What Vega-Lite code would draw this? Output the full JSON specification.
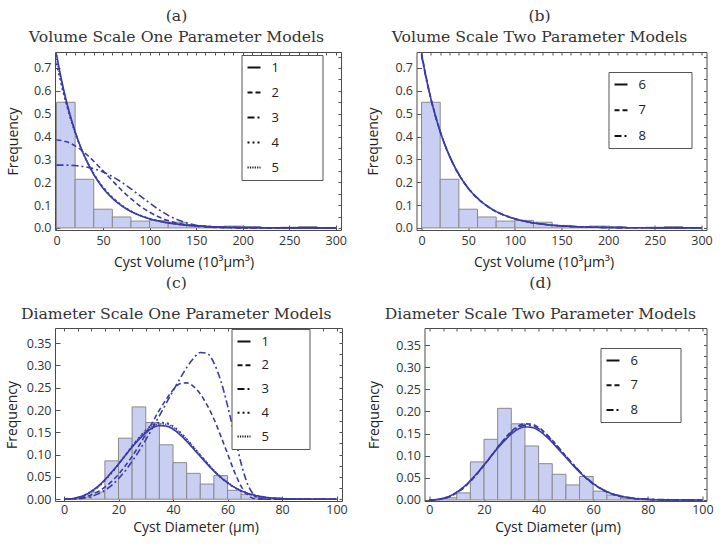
{
  "$schema": "https://vega.github.io/schema/vega-lite/v6.json",
  "background": "white",
  "padding": {"left": 4, "top": 7, "right": 2, "bottom": 2},
  "config": {
    "view": {"stroke": "#4a4a4a", "strokeWidth": 1},
    "title": {"font": "DejaVu Serif", "fontSize": 15.7, "fontWeight": "normal", "color": "#333333", "lineHeight": 21, "offset": 6, "frame": "bounds"},
    "axis": {"labelFont": "Open Sans", "labelFontSize": 12.5, "labelColor": "#333333", "titleFont": "Open Sans", "titleFontSize": 14, "titleFontWeight": "normal", "titleColor": "#222222", "domain": false, "grid": false, "tickColor": "#555555", "tickSize": -5, "labelPadding": 4, "labelFlush": false, "labelOverlap": false},
    "legend": {"orient": "none", "symbolType": "stroke", "symbolStrokeColor": "#111111", "symbolStrokeWidth": 2, "symbolSize": 169, "labelFont": "Open Sans", "labelFontSize": 13, "labelColor": "#222222", "labelOffset": 10, "rowPadding": 10, "padding": 5, "strokeColor": "#555555", "fillColor": "white"}
  },
  "datasets": {
    "volHist": [
      {"x0": 0, "x1": 20, "f": 0.55}, {"x0": 20, "x1": 40, "f": 0.213}, {"x0": 40, "x1": 60, "f": 0.082},
      {"x0": 60, "x1": 80, "f": 0.048}, {"x0": 80, "x1": 100, "f": 0.03}, {"x0": 100, "x1": 120, "f": 0.033},
      {"x0": 120, "x1": 140, "f": 0.025}, {"x0": 140, "x1": 160, "f": 0.011}, {"x0": 160, "x1": 180, "f": 0.005},
      {"x0": 180, "x1": 200, "f": 0.008}, {"x0": 200, "x1": 220, "f": 0.005}, {"x0": 220, "x1": 240, "f": 0.002},
      {"x0": 240, "x1": 260, "f": 0.003}, {"x0": 260, "x1": 280, "f": 0.006}, {"x0": 280, "x1": 300, "f": 0.002}
    ],
    "diaHist": [
      {"x0": 0, "x1": 5, "f": 0.001}, {"x0": 5, "x1": 10, "f": 0.005}, {"x0": 10, "x1": 15, "f": 0.016},
      {"x0": 15, "x1": 20, "f": 0.086}, {"x0": 20, "x1": 25, "f": 0.137}, {"x0": 25, "x1": 30, "f": 0.207},
      {"x0": 30, "x1": 35, "f": 0.172}, {"x0": 35, "x1": 40, "f": 0.122}, {"x0": 40, "x1": 45, "f": 0.082},
      {"x0": 45, "x1": 50, "f": 0.058}, {"x0": 50, "x1": 55, "f": 0.034}, {"x0": 55, "x1": 60, "f": 0.053},
      {"x0": 60, "x1": 65, "f": 0.02}, {"x0": 65, "x1": 70, "f": 0.011}, {"x0": 70, "x1": 75, "f": 0.004},
      {"x0": 75, "x1": 80, "f": 0.003}, {"x0": 80, "x1": 85, "f": 0.001}, {"x0": 85, "x1": 90, "f": 0.0005},
      {"x0": 90, "x1": 95, "f": 0.0005}, {"x0": 95, "x1": 100, "f": 0.0005}
    ],
    "volA": [
      {"x": 0, "1": 0.760, "2": 0.385, "3": 0.275, "4": 0.720, "5": 0.740},
      {"x": 5, "1": 0.656, "2": 0.383, "3": 0.275, "4": 0.630, "5": 0.643},
      {"x": 10, "1": 0.566, "2": 0.378, "3": 0.275, "4": 0.550, "5": 0.558},
      {"x": 15, "1": 0.489, "2": 0.370, "3": 0.274, "4": 0.479, "5": 0.484},
      {"x": 20, "1": 0.422, "2": 0.359, "3": 0.273, "4": 0.417, "5": 0.420},
      {"x": 25, "1": 0.364, "2": 0.346, "3": 0.271, "4": 0.362, "5": 0.363},
      {"x": 30, "1": 0.315, "2": 0.330, "3": 0.268, "4": 0.315, "5": 0.315},
      {"x": 35, "1": 0.272, "2": 0.312, "3": 0.264, "4": 0.274, "5": 0.273},
      {"x": 40, "1": 0.234, "2": 0.292, "3": 0.259, "4": 0.238, "5": 0.236},
      {"x": 45, "1": 0.202, "2": 0.271, "3": 0.253, "4": 0.206, "5": 0.204},
      {"x": 50, "1": 0.174, "2": 0.250, "3": 0.245, "4": 0.179, "5": 0.176},
      {"x": 60, "1": 0.130, "2": 0.207, "3": 0.225, "4": 0.134, "5": 0.132},
      {"x": 70, "1": 0.097, "2": 0.165, "3": 0.200, "4": 0.100, "5": 0.098},
      {"x": 80, "1": 0.072, "2": 0.128, "3": 0.171, "4": 0.074, "5": 0.073},
      {"x": 90, "1": 0.054, "2": 0.095, "3": 0.140, "4": 0.055, "5": 0.054},
      {"x": 100, "1": 0.040, "2": 0.069, "3": 0.109, "4": 0.041, "5": 0.040},
      {"x": 110, "1": 0.030, "2": 0.048, "3": 0.080, "4": 0.030, "5": 0.030},
      {"x": 120, "1": 0.022, "2": 0.032, "3": 0.055, "4": 0.022, "5": 0.022},
      {"x": 130, "1": 0.0166, "2": 0.021, "3": 0.036, "4": 0.016, "5": 0.0165},
      {"x": 140, "1": 0.012, "2": 0.013, "3": 0.0215, "4": 0.012, "5": 0.012},
      {"x": 150, "1": 0.009, "2": 0.008, "3": 0.012, "4": 0.009, "5": 0.009},
      {"x": 170, "1": 0.005, "2": 0.0027, "3": 0.0029, "4": 0.005, "5": 0.005},
      {"x": 200, "1": 0.002, "2": 0.0004, "3": 0.0001, "4": 0.002, "5": 0.002},
      {"x": 250, "1": 0.0005, "2": 0, "3": 0, "4": 0.0005, "5": 0.0005},
      {"x": 300, "1": 0.0001, "2": 0, "3": 0, "4": 0.0001, "5": 0.0001}
    ],
    "volB": [
      {"x": 0, "6": 0.760, "7": 0.765, "8": 0.755},
      {"x": 5, "6": 0.656, "7": 0.660, "8": 0.652},
      {"x": 10, "6": 0.566, "7": 0.568, "8": 0.563},
      {"x": 15, "6": 0.489, "7": 0.490, "8": 0.487},
      {"x": 20, "6": 0.422, "7": 0.422, "8": 0.421},
      {"x": 25, "6": 0.364, "7": 0.364, "8": 0.364},
      {"x": 30, "6": 0.315, "7": 0.314, "8": 0.315},
      {"x": 35, "6": 0.272, "7": 0.270, "8": 0.272},
      {"x": 40, "6": 0.234, "7": 0.233, "8": 0.235},
      {"x": 45, "6": 0.202, "7": 0.201, "8": 0.203},
      {"x": 50, "6": 0.174, "7": 0.173, "8": 0.175},
      {"x": 60, "6": 0.130, "7": 0.129, "8": 0.131},
      {"x": 70, "6": 0.097, "7": 0.096, "8": 0.097},
      {"x": 80, "6": 0.072, "7": 0.071, "8": 0.072},
      {"x": 90, "6": 0.054, "7": 0.053, "8": 0.054},
      {"x": 100, "6": 0.040, "7": 0.040, "8": 0.040},
      {"x": 110, "6": 0.030, "7": 0.030, "8": 0.030},
      {"x": 120, "6": 0.022, "7": 0.022, "8": 0.022},
      {"x": 130, "6": 0.0166, "7": 0.0165, "8": 0.0166},
      {"x": 140, "6": 0.012, "7": 0.012, "8": 0.012},
      {"x": 150, "6": 0.009, "7": 0.009, "8": 0.009},
      {"x": 170, "6": 0.005, "7": 0.005, "8": 0.005},
      {"x": 200, "6": 0.002, "7": 0.002, "8": 0.002},
      {"x": 250, "6": 0.0005, "7": 0.0005, "8": 0.0005},
      {"x": 300, "6": 0.0001, "7": 0.0001, "8": 0.0001}
    ],
    "diaC": [
      {"x": 0, "1": 0, "2": 0, "3": 0, "4": 0, "5": 0},
      {"x": 2.5, "1": 0.001, "2": 0.0005, "3": 0.0002, "4": 0.0005, "5": 0.0005},
      {"x": 5, "1": 0.004, "2": 0.002, "3": 0.001, "4": 0.003, "5": 0.003},
      {"x": 7.5, "1": 0.009, "2": 0.005, "3": 0.003, "4": 0.008, "5": 0.008},
      {"x": 10, "1": 0.018, "2": 0.01, "3": 0.006, "4": 0.016, "5": 0.017},
      {"x": 12.5, "1": 0.029, "2": 0.017, "3": 0.012, "4": 0.027, "5": 0.028},
      {"x": 15, "1": 0.044, "2": 0.027, "3": 0.02, "4": 0.042, "5": 0.043},
      {"x": 17.5, "1": 0.061, "2": 0.04, "3": 0.031, "4": 0.059, "5": 0.06},
      {"x": 20, "1": 0.079, "2": 0.056, "3": 0.046, "4": 0.078, "5": 0.079},
      {"x": 22.5, "1": 0.098, "2": 0.075, "3": 0.064, "4": 0.098, "5": 0.099},
      {"x": 25, "1": 0.117, "2": 0.096, "3": 0.085, "4": 0.119, "5": 0.119},
      {"x": 27.5, "1": 0.134, "2": 0.12, "3": 0.108, "4": 0.138, "5": 0.137},
      {"x": 30, "1": 0.149, "2": 0.146, "3": 0.133, "4": 0.155, "5": 0.153},
      {"x": 32.5, "1": 0.160, "2": 0.173, "3": 0.16, "4": 0.167, "5": 0.164},
      {"x": 35, "1": 0.165, "2": 0.2, "3": 0.187, "4": 0.172, "5": 0.169},
      {"x": 37.5, "1": 0.164, "2": 0.224, "3": 0.215, "4": 0.171, "5": 0.168},
      {"x": 40, "1": 0.157, "2": 0.245, "3": 0.243, "4": 0.164, "5": 0.161},
      {"x": 42.5, "1": 0.145, "2": 0.259, "3": 0.27, "4": 0.151, "5": 0.149},
      {"x": 45, "1": 0.130, "2": 0.261, "3": 0.295, "4": 0.135, "5": 0.134},
      {"x": 47.5, "1": 0.113, "2": 0.253, "3": 0.316, "4": 0.117, "5": 0.117},
      {"x": 50, "1": 0.096, "2": 0.236, "3": 0.329, "4": 0.099, "5": 0.099},
      {"x": 52.5, "1": 0.079, "2": 0.211, "3": 0.327, "4": 0.081, "5": 0.082},
      {"x": 55, "1": 0.063, "2": 0.18, "3": 0.306, "4": 0.064, "5": 0.065},
      {"x": 57.5, "1": 0.049, "2": 0.142, "3": 0.266, "4": 0.049, "5": 0.05},
      {"x": 60, "1": 0.037, "2": 0.102, "3": 0.21, "4": 0.036, "5": 0.038},
      {"x": 62.5, "1": 0.027, "2": 0.062, "3": 0.145, "4": 0.026, "5": 0.027},
      {"x": 65, "1": 0.019, "2": 0.029, "3": 0.08, "4": 0.018, "5": 0.019},
      {"x": 67.5, "1": 0.013, "2": 0.009, "3": 0.032, "4": 0.012, "5": 0.013},
      {"x": 70, "1": 0.009, "2": 0.001, "3": 0.008, "4": 0.008, "5": 0.008},
      {"x": 72.5, "1": 0.006, "2": 0, "3": 0.001, "4": 0.005, "5": 0.005},
      {"x": 75, "1": 0.0035, "2": 0, "3": 0, "4": 0.003, "5": 0.003},
      {"x": 80, "1": 0.0013, "2": 0, "3": 0, "4": 0.001, "5": 0.001},
      {"x": 85, "1": 0.0004, "2": 0, "3": 0, "4": 0.0003, "5": 0.0003},
      {"x": 90, "1": 0.0001, "2": 0, "3": 0, "4": 0, "5": 0},
      {"x": 100, "1": 0, "2": 0, "3": 0, "4": 0, "5": 0}
    ],
    "diaD": [
      {"x": 0, "6": 0, "7": 0, "8": 0},
      {"x": 2.5, "6": 0.001, "7": 0.0005, "8": 0.0005},
      {"x": 5, "6": 0.004, "7": 0.003, "8": 0.003},
      {"x": 7.5, "6": 0.009, "7": 0.008, "8": 0.008},
      {"x": 10, "6": 0.018, "7": 0.016, "8": 0.017},
      {"x": 12.5, "6": 0.029, "7": 0.027, "8": 0.028},
      {"x": 15, "6": 0.044, "7": 0.042, "8": 0.043},
      {"x": 17.5, "6": 0.061, "7": 0.059, "8": 0.06},
      {"x": 20, "6": 0.079, "7": 0.078, "8": 0.079},
      {"x": 22.5, "6": 0.098, "7": 0.098, "8": 0.099},
      {"x": 25, "6": 0.117, "7": 0.119, "8": 0.119},
      {"x": 27.5, "6": 0.134, "7": 0.138, "8": 0.137},
      {"x": 30, "6": 0.149, "7": 0.155, "8": 0.153},
      {"x": 32.5, "6": 0.160, "7": 0.167, "8": 0.164},
      {"x": 35, "6": 0.165, "7": 0.172, "8": 0.169},
      {"x": 37.5, "6": 0.164, "7": 0.171, "8": 0.168},
      {"x": 40, "6": 0.157, "7": 0.164, "8": 0.161},
      {"x": 42.5, "6": 0.145, "7": 0.151, "8": 0.149},
      {"x": 45, "6": 0.130, "7": 0.135, "8": 0.134},
      {"x": 47.5, "6": 0.113, "7": 0.117, "8": 0.117},
      {"x": 50, "6": 0.096, "7": 0.099, "8": 0.099},
      {"x": 52.5, "6": 0.079, "7": 0.081, "8": 0.082},
      {"x": 55, "6": 0.063, "7": 0.064, "8": 0.065},
      {"x": 57.5, "6": 0.049, "7": 0.049, "8": 0.05},
      {"x": 60, "6": 0.037, "7": 0.036, "8": 0.038},
      {"x": 62.5, "6": 0.027, "7": 0.026, "8": 0.027},
      {"x": 65, "6": 0.019, "7": 0.018, "8": 0.019},
      {"x": 67.5, "6": 0.013, "7": 0.012, "8": 0.013},
      {"x": 70, "6": 0.009, "7": 0.008, "8": 0.009},
      {"x": 72.5, "6": 0.006, "7": 0.005, "8": 0.006},
      {"x": 75, "6": 0.0035, "7": 0.003, "8": 0.004},
      {"x": 80, "6": 0.0013, "7": 0.001, "8": 0.002},
      {"x": 85, "6": 0.0004, "7": 0.0003, "8": 0.001},
      {"x": 90, "6": 0.0001, "7": 0, "8": 0.0005},
      {"x": 100, "6": 0, "7": 0, "8": 0.0002}
    ]
  },
  "resolve": {"scale": {"strokeDash": "independent"}, "legend": {"strokeDash": "independent"}},
  "spacing": 4,
  "vconcat": [
    {
      "spacing": 17.5,
      "resolve": {"scale": {"strokeDash": "independent"}, "legend": {"strokeDash": "independent"}},
      "hconcat": [
        {
          "width": 286, "height": 178,
          "title": {"text": ["(a)", "Volume Scale One Parameter Models"]},
          "layer": [
            {
              "data": {"name": "volHist"},
              "mark": {"type": "bar", "fill": "#c8cff3", "stroke": "#8a8a8a", "strokeWidth": 1},
              "encoding": {
                "x": {"field": "x0", "type": "quantitative", "scale": {"domain": [-1.6, 305.6], "nice": false, "zero": false}, "axis": {"values": [0, 50, 100, 150, 200, 250, 300], "title": "Cyst Volume (10³μm³)", "labelPadding": 9, "titlePadding": 9, "titleX": 128.5}},
                "x2": {"field": "x1"},
                "y": {"field": "f", "type": "quantitative", "scale": {"domain": [-0.009, 0.77], "nice": false, "zero": false}, "axis": {"values": [0, 0.1, 0.2, 0.3, 0.4, 0.5, 0.6, 0.7], "format": ".1f", "title": "Frequency", "labelPadding": 9, "titlePadding": 13}},
                "y2": {"datum": 0}
              }
            },
            {
              "data": {"name": "volA"},
              "transform": [{"fold": ["1", "2", "3", "4", "5"], "as": ["m", "y"]}],
              "mark": {"type": "line", "color": "#3b3ba5", "strokeWidth": 1.6, "interpolate": "monotone", "clip": true},
              "encoding": {
                "x": {"field": "x", "type": "quantitative", "scale": {"domain": [-1.6, 305.6], "nice": false, "zero": false}, "axis": {"orient": "top", "values": [0, 10, 20, 30, 40, 50, 60, 70, 80, 90, 100, 110, 120, 130, 140, 150, 160, 170, 180, 190, 200, 210, 220, 230, 240, 250, 260, 270, 280, 290, 300], "labels": false, "title": null, "tickSize": -3}},
                "y": {"field": "y", "type": "quantitative", "scale": {"domain": [-0.009, 0.77], "nice": false, "zero": false}, "axis": {"orient": "right", "values": [0, 0.05, 0.1, 0.15, 0.2, 0.25, 0.3, 0.35, 0.4, 0.45, 0.5, 0.55, 0.6, 0.65, 0.7, 0.75], "labels": false, "title": null, "tickSize": -3}},
                "strokeDash": {"field": "m", "type": "nominal", "scale": {"domain": ["1", "2", "3", "4", "5"], "range": [[1, 0], [5, 3], [7, 3, 2, 3], [2, 3], [1.2, 1.2]]}, "legend": {"legendX": 186.5, "legendY": 3, "rowPadding": 10, "title": "00000", "titleOrient": "right", "titleOpacity": 0, "titleFont": "Open Sans", "titleFontSize": 13, "titleFontWeight": "normal", "titlePadding": 1.5}}
              }
            }
          ],
          "resolve": {"axis": {"x": "independent", "y": "independent"}}
        },
        {
          "width": 290, "height": 178,
          "title": {"text": ["(b)", "Volume Scale Two Parameter Models"]},
          "layer": [
            {
              "data": {"name": "volHist"},
              "mark": {"type": "bar", "fill": "#c8cff3", "stroke": "#8a8a8a", "strokeWidth": 1},
              "encoding": {
                "x": {"field": "x0", "type": "quantitative", "scale": {"domain": [-5.4, 305.4], "nice": false, "zero": false}, "axis": {"values": [0, 50, 100, 150, 200, 250, 300], "title": "Cyst Volume (10³μm³)", "labelPadding": 9, "titlePadding": 9, "titleX": 127}},
                "x2": {"field": "x1"},
                "y": {"field": "f", "type": "quantitative", "scale": {"domain": [-0.009, 0.77], "nice": false, "zero": false}, "axis": {"values": [0, 0.1, 0.2, 0.3, 0.4, 0.5, 0.6, 0.7], "format": ".1f", "title": "Frequency", "labelPadding": 9, "titlePadding": 14}},
                "y2": {"datum": 0}
              }
            },
            {
              "data": {"name": "volB"},
              "transform": [{"fold": ["6", "7", "8"], "as": ["m", "y"]}],
              "mark": {"type": "line", "color": "#3b3ba5", "strokeWidth": 1.6, "interpolate": "monotone", "clip": true},
              "encoding": {
                "x": {"field": "x", "type": "quantitative", "scale": {"domain": [-5.4, 305.4], "nice": false, "zero": false}, "axis": {"orient": "top", "values": [0, 10, 20, 30, 40, 50, 60, 70, 80, 90, 100, 110, 120, 130, 140, 150, 160, 170, 180, 190, 200, 210, 220, 230, 240, 250, 260, 270, 280, 290, 300], "labels": false, "title": null, "tickSize": -3}},
                "y": {"field": "y", "type": "quantitative", "scale": {"domain": [-0.009, 0.77], "nice": false, "zero": false}, "axis": {"orient": "right", "values": [0, 0.05, 0.1, 0.15, 0.2, 0.25, 0.3, 0.35, 0.4, 0.45, 0.5, 0.55, 0.6, 0.65, 0.7, 0.75], "labels": false, "title": null, "tickSize": -3}},
                "strokeDash": {"field": "m", "type": "nominal", "scale": {"domain": ["6", "7", "8"], "range": [[1, 0], [5, 3], [7, 3, 2, 3]]}, "legend": {"legendX": 192, "legendY": 20, "rowPadding": 10.75, "title": "00000", "titleOrient": "right", "titleOpacity": 0, "titleFont": "Open Sans", "titleFontSize": 13, "titleFontWeight": "normal", "titlePadding": 3.5}}
              }
            }
          ],
          "resolve": {"axis": {"x": "independent", "y": "independent"}}
        }
      ]
    },
    {
      "spacing": 18.5,
      "resolve": {"scale": {"strokeDash": "independent"}, "legend": {"strokeDash": "independent"}},
      "hconcat": [
        {
          "width": 287, "height": 173,
          "title": {"text": ["(c)", "Diameter Scale One Parameter Models"], "lineHeight": 31, "offset": 5},
          "layer": [
            {
              "data": {"name": "diaHist"},
              "mark": {"type": "bar", "fill": "#c8cff3", "stroke": "#8a8a8a", "strokeWidth": 1},
              "encoding": {
                "x": {"field": "x0", "type": "quantitative", "scale": {"domain": [-3.3, 102], "nice": false, "zero": false}, "axis": {"values": [0, 20, 40, 60, 80, 100], "title": "Cyst Diameter  (μm)", "labelPadding": 7, "titlePadding": 5, "titleX": 140.5}},
                "x2": {"field": "x1"},
                "y": {"field": "f", "type": "quantitative", "scale": {"domain": [-0.004, 0.384], "nice": false, "zero": false}, "axis": {"values": [0, 0.05, 0.1, 0.15, 0.2, 0.25, 0.3, 0.35], "format": ".2f", "title": "Frequency", "labelPadding": 9, "titlePadding": 7}},
                "y2": {"datum": 0}
              }
            },
            {
              "data": {"name": "diaC"},
              "transform": [{"fold": ["1", "2", "3", "4", "5"], "as": ["m", "y"]}],
              "mark": {"type": "line", "color": "#3b3ba5", "strokeWidth": 1.6, "interpolate": "monotone", "clip": true},
              "encoding": {
                "x": {"field": "x", "type": "quantitative", "scale": {"domain": [-3.3, 102], "nice": false, "zero": false}, "axis": {"orient": "top", "values": [0, 5, 10, 15, 20, 25, 30, 35, 40, 45, 50, 55, 60, 65, 70, 75, 80, 85, 90, 95, 100], "labels": false, "title": null, "tickSize": -3}},
                "y": {"field": "y", "type": "quantitative", "scale": {"domain": [-0.004, 0.384], "nice": false, "zero": false}, "axis": {"orient": "right", "values": [0, 0.025, 0.05, 0.075, 0.1, 0.125, 0.15, 0.175, 0.2, 0.225, 0.25, 0.275, 0.3, 0.325, 0.35, 0.375], "labels": false, "title": null, "tickSize": -3}},
                "strokeDash": {"field": "m", "type": "nominal", "scale": {"domain": ["1", "2", "3", "4", "5"], "range": [[1, 0], [5, 3], [7, 3, 2, 3], [2, 3], [1.2, 1.2]]}, "legend": {"legendX": 176.5, "legendY": 1, "rowPadding": 8.75, "title": "00000", "titleOrient": "right", "titleOpacity": 0, "titleFont": "Open Sans", "titleFontSize": 12.4, "titleFontWeight": "normal", "titlePadding": 0}}
              }
            }
          ],
          "resolve": {"axis": {"x": "independent", "y": "independent"}}
        },
        {
          "width": 282, "height": 173,
          "title": {"text": ["(d)", "Diameter Scale Two Parameter Models"], "lineHeight": 31, "offset": 5},
          "layer": [
            {
              "data": {"name": "diaHist"},
              "mark": {"type": "bar", "fill": "#c8cff3", "stroke": "#8a8a8a", "strokeWidth": 1},
              "encoding": {
                "x": {"field": "x0", "type": "quantitative", "scale": {"domain": [-1.8, 101.5], "nice": false, "zero": false}, "axis": {"values": [0, 20, 40, 60, 80, 100], "title": "Cyst Diameter  (μm)", "labelPadding": 7, "titlePadding": 5, "titleX": 133}},
                "x2": {"field": "x1"},
                "y": {"field": "f", "type": "quantitative", "scale": {"domain": [-0.0023, 0.3884], "nice": false, "zero": false}, "axis": {"values": [0, 0.05, 0.1, 0.15, 0.2, 0.25, 0.3, 0.35], "format": ".2f", "title": "Frequency", "labelPadding": 9, "titlePadding": 14}},
                "y2": {"datum": 0}
              }
            },
            {
              "data": {"name": "diaD"},
              "transform": [{"fold": ["6", "7", "8"], "as": ["m", "y"]}],
              "mark": {"type": "line", "color": "#3b3ba5", "strokeWidth": 1.6, "interpolate": "monotone", "clip": true},
              "encoding": {
                "x": {"field": "x", "type": "quantitative", "scale": {"domain": [-1.8, 101.5], "nice": false, "zero": false}, "axis": {"orient": "top", "values": [0, 5, 10, 15, 20, 25, 30, 35, 40, 45, 50, 55, 60, 65, 70, 75, 80, 85, 90, 95, 100], "labels": false, "title": null, "tickSize": -3}},
                "y": {"field": "y", "type": "quantitative", "scale": {"domain": [-0.0023, 0.3884], "nice": false, "zero": false}, "axis": {"orient": "right", "values": [0, 0.025, 0.05, 0.075, 0.1, 0.125, 0.15, 0.175, 0.2, 0.225, 0.25, 0.275, 0.3, 0.325, 0.35, 0.375], "labels": false, "title": null, "tickSize": -3}},
                "strokeDash": {"field": "m", "type": "nominal", "scale": {"domain": ["6", "7", "8"], "range": [[1, 0], [5, 3], [7, 3, 2, 3]]}, "legend": {"legendX": 176, "legendY": 20, "rowPadding": 9.75, "title": "00000", "titleOrient": "right", "titleOpacity": 0, "titleFont": "Open Sans", "titleFontSize": 13, "titleFontWeight": "normal", "titlePadding": 0.5}}
              }
            }
          ],
          "resolve": {"axis": {"x": "independent", "y": "independent"}}
        }
      ]
    }
  ]
}
